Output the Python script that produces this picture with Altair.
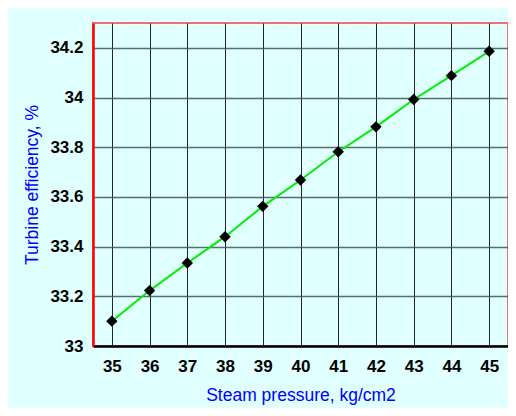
import altair as alt
import pandas as pd

pressure = [35, 36, 37, 38, 39, 40, 41, 42, 43, 44, 45]
efficiency = [33.10, 33.223, 33.334, 33.44, 33.562, 33.668, 33.782, 33.882, 33.992, 34.088, 34.186]
x_ticks = [35, 36, 37, 38, 39, 40, 41, 42, 43, 44, 45]
y_ticks = [33, 33.2, 33.4, 33.6, 33.8, 34, 34.2]

df = pd.DataFrame({"p": pressure, "e": efficiency})

x = alt.X("p:Q", scale=alt.Scale(domain=[34.5, 45.5], nice=False, zero=False),
          axis=alt.Axis(title="Steam pressure, kg/cm2", values=x_ticks, format="d",
                        grid=True, gridColor="#000000", gridWidth=1, gridOpacity=0.85,
                        domainColor="#000000", domainWidth=2.5, ticks=False,
                        labelPadding=12, labelFontSize=17, labelFontWeight="bold",
                        labelColor="#000000", labelFont="Liberation Sans",
                        titleFont="Liberation Sans", titleFontSize=17.5, titleFontWeight="normal",
                        titleColor="#0000FF", titleY=49, titleBaseline="middle"))
y = alt.Y("e:Q", scale=alt.Scale(domain=[33, 34.3], nice=False, zero=False),
          axis=alt.Axis(title="Turbine efficiency, %", values=y_ticks, format="~g",
                        grid=True, gridColor="#3d5555", gridWidth=1.5, gridOpacity=0.85,
                        domainColor="#FF0000", domainWidth=2.5, ticks=False,
                        labelPadding=10, labelFontSize=17, labelFontWeight="bold",
                        labelColor="#000000", labelFont="Liberation Sans",
                        titleFont="Liberation Sans", titleFontSize=17.5, titleFontWeight="normal",
                        titleColor="#0000FF", titleX=-61, titleBaseline="middle"))

line = alt.Chart(df).mark_line(color="#00EE00", strokeWidth=2).encode(x=x, y=y)
pts = alt.Chart(df).mark_point(shape="diamond", filled=True, color="#000000", size=130, opacity=1).encode(x=x, y=y)

chart = (line + pts).properties(
    width=415, height=323,
    background="#E0FFFF",
    padding={"left": 85, "top": 15, "right": 0, "bottom": 62},
    autosize=alt.AutoSizeParams(type="none"),
).configure_view(stroke="#EE7070", strokeWidth=2, fill="#E0FFFF")

chart.save("out.html", embed_options={"renderer": "svg", "actions": False})
